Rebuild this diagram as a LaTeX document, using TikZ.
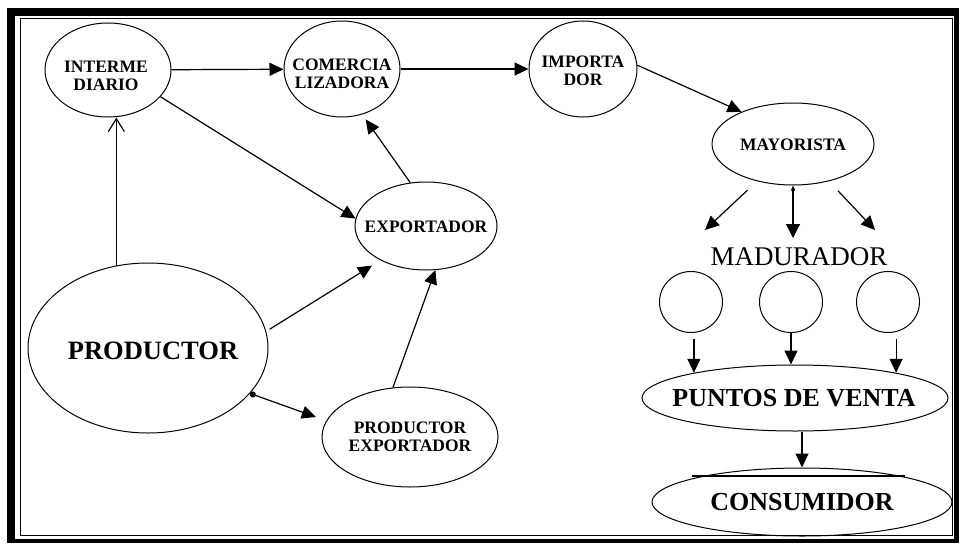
\documentclass[tikz,border=0pt]{standalone}
\usepackage{fontspec}
\setmainfont{Liberation Serif}
\usetikzlibrary{arrows.meta,shapes.geometric}
\begin{document}
\begin{tikzpicture}[x=1pt,y=-1pt,
  ell/.style={ellipse,draw,line width=1pt,inner sep=0pt},
  txt/.style={font=\fontsize{17.5}{18}\selectfont\bfseries,align=center,inner sep=0pt},
  bigtxt/.style={font=\fontsize{26}{28}\selectfont\bfseries,inner sep=0pt},
  tri/.style={line width=1.2pt,-{Triangle[length=14pt,width=13pt]}},
  barb/.style={line width=1.2pt,-{Straight Barb[length=13pt,width=16pt]}},
]
\useasboundingbox (0,0) rectangle (960,543);

% double frame
\fill[black] (7,8) rectangle (959,543);
\fill[white] (15,16) rectangle (954,539);
\draw[line width=1pt] (20,19) rectangle (952,535);

% actors
\node[ell,minimum width=126pt,minimum height=94pt] (inter) at (108,70) {};
\node[txt] (inter-t) at (106,76) {INTERME\\DIARIO};
\node[ell,minimum width=116pt,minimum height=96pt] (comer) at (342,69) {};
\node[txt] (comer-t) at (342,73.5) {COMERCIA\\LIZADORA};
\node[ell,minimum width=108pt,minimum height=96pt] (impor) at (583,69) {};
\node[txt] (impor-t) at (583,71) {IMPORTA\\DOR};
\node[ell,minimum width=162pt,minimum height=82pt] (mayor) at (793,144) {};
\node[txt] (mayor-t) at (793,145) {MAYORISTA};
\node[ell,minimum width=142pt,minimum height=88pt] (expor) at (426,226) {};
\node[txt] (expor-t) at (426,227) {EXPORTADOR};
\node[ell,minimum width=240pt,minimum height=170pt] (prod) at (148,348) {};
\node[bigtxt,font=\fontsize{26.5}{28}\selectfont\bfseries] (prod-t) at (153,351) {PRODUCTOR};
\node[ell,minimum width=176pt,minimum height=100pt] (prodexp) at (410,437) {};
\node[txt] (prodexp-t) at (410,437) {PRODUCTOR\\EXPORTADOR};

% ripening stage
\node[inner sep=0pt,font=\fontsize{27}{28}\selectfont] (mad) at (799,257) {MADURADOR};
\node[ell,minimum width=63pt,minimum height=61pt] (c1) at (691,302) {};
\node[ell,minimum width=63pt,minimum height=61pt] (c2) at (791,302) {};
\node[ell,minimum width=63pt,minimum height=61pt] (c3) at (888,302) {};

% retail and consumer
\node[ell,minimum width=306pt,minimum height=66pt] (puntos) at (795,398) {};
\node[bigtxt] (puntos-t) at (794,398) {PUNTOS DE VENTA};
\node[ell,minimum width=300pt,minimum height=68pt] (consum) at (802,502) {};
\node[bigtxt] (consum-t) at (802,502) {CONSUMIDOR};
\draw[line width=2.5pt] ([shift={(-110,-26)}]consum.center) -- ([shift={(103,-26)}]consum.center);

% free ends below the wholesaler
\coordinate (m1) at (705,230);
\coordinate (m2) at (793,238);
\coordinate (m3) at (875,230);

% flows
\draw[tri] (inter) -- (comer);
\draw[tri] (comer) -- (impor);
\draw[tri] (impor.4) -- (mayor.148);
\draw[tri] (inter.-27) -- (expor.174);
\draw[barb] (prod.111) -- (prod.111 |- inter.south);
\draw[tri,shorten >=6pt] (expor.110) -- (comer.-66);
\draw[tri,shorten <=4pt,shorten >=10pt] (prod.8) -- (expor.217);
\draw[tri] (prodexp.109) -- (expor.-78);
\draw[line width=1.2pt,{Circle[length=6pt]}-{Triangle[length=14pt,width=13pt]},shorten >=11pt] (prod.-24) -- (prodexp.169);

\draw[tri,shorten <=13pt] (mayor.-134) -- (m1);
\draw[line width=1.2pt,{Triangle[length=5pt,width=4pt]}-{Triangle[length=14pt,width=14pt]}] (mayor.south) -- (m2);
\draw[tri,shorten <=13pt] (mayor.-46) -- (m3);

\draw[tri,shorten <=6pt] (puntos.166 |- c1.south) -- (puntos.166);
\draw[tri] (c2.south) -- (c2.south |- puntos.north);
\draw[tri,shorten <=6pt] (puntos.14 |- c3.south) -- (puntos.14);
\draw[tri] (consum.north |- puntos.south) -- (consum.north);
\end{tikzpicture}
\end{document}
